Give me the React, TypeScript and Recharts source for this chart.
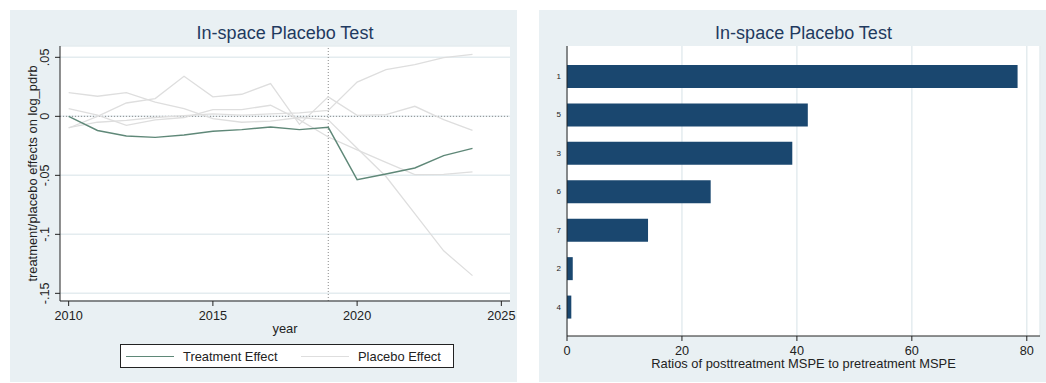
import {
  LineChart,
  Line,
  BarChart,
  Bar,
  XAxis,
  YAxis,
  CartesianGrid,
  ReferenceLine,
} from 'recharts'

// ─── Data ─────────────────────────────────────────────────────────────────────

const YEARS = [2010, 2011, 2012, 2013, 2014, 2015, 2016, 2017, 2018, 2019, 2020, 2021, 2022, 2023, 2024]

const TREATED = [0, -0.012, -0.0167, -0.0178, -0.0158, -0.0127, -0.0113, -0.009, -0.0113, -0.0093, -0.0537, -0.0489, -0.0438, -0.0333, -0.0271]

const PLACEBO_A = [-0.0099, 0.0, 0.0113, 0.015, 0.034, 0.0165, 0.0187, 0.0278, -0.0068, 0.0165, 0.0008, 0.0014, 0.0085, -0.0028, -0.0119]
const PLACEBO_B = [0.02, 0.017, 0.02, 0.012, 0.0065, -0.002, -0.005, -0.004, -0.001, -0.003, -0.027, -0.051, -0.0825, -0.114, -0.135]
const PLACEBO_C = [0.0065, 0.001, -0.0077, -0.003, -0.001, 0.0057, 0.0057, 0.0094, -0.003, -0.0175, -0.0285, -0.039, -0.0494, -0.0492, -0.047]
const PLACEBO_D = [-0.0095, -0.005, -0.0034, -0.001, 0.0006, 0.002, 0.001, 0.002, 0.003, 0.005, 0.029, 0.0395, 0.0438, 0.0497, 0.0525]

const PLACEBOS = [PLACEBO_A, PLACEBO_B, PLACEBO_C, PLACEBO_D]

const Y_TICKS = [-0.15, -0.1, -0.05, 0, 0.05]
const X_TICKS = [2010, 2015, 2020, 2025]
const TREAT_YEAR = 2019

const UNITS = ['1', '5', '3', '6', '7', '2', '4']
const RATIOS = [78.4, 41.9, 39.2, 25.0, 14.1, 1.0, 0.75]
const RATIO_TICKS = [0, 20, 40, 60, 80]

// ─── Style ────────────────────────────────────────────────────────────────────

const FONT = '"Liberation Sans", Arial, Helvetica, sans-serif'
const PANEL_BG = '#e9f0f3'
const GRID = '#e4ecef'
const AXIS = '#222'
const TITLE = '#1f3a60'
const TREAT_COLOR = '#5f8878'
const PLACEBO_COLOR = '#dedede'
const BAR_COLOR = '#1a476f'
const TICK_FONT = 12.7
const LABEL_FONT = 12.9

const lineData = YEARS.map((year, i) => {
  const row: Record<string, number> = { year, treated: TREATED[i] }
  PLACEBOS.forEach((s, k) => { row[`p${k}`] = s[i] })
  return row
})

const barData = UNITS.map((unit, i) => ({ unit, ratio: RATIOS[i] }))

// ─── Helpers ──────────────────────────────────────────────────────────────────

function stataNum(v: number) {
  if (v === 0) return '0'
  const s = String(Math.abs(v)).replace(/^0/, '')
  return (v < 0 ? '-' : '') + s
}

function RotatedTick({ x, y, payload }: any) {
  const tx = x - 3.5
  return (
    <text
      x={tx}
      y={y}
      transform={`rotate(-90 ${tx} ${y})`}
      textAnchor="middle"
      fontSize={TICK_FONT}
      fontFamily={FONT}
      fill={AXIS}
    >
      {stataNum(payload.value)}
    </text>
  )
}

function YTitle() {
  const cx = 26.5
  const cy = 36 + 255 / 2
  return (
    <text
      x={cx}
      y={cy}
      transform={`rotate(-90 ${cx} ${cy})`}
      textAnchor="middle"
      fontSize={LABEL_FONT}
      fontFamily={FONT}
      fill={AXIS}
    >
      treatment/placebo effects on log_pdrb
    </text>
  )
}

function Title({ left, width }: { left: number; width: number }) {
  return (
    <div
      style={{
        position: 'absolute',
        left,
        top: 13,
        width,
        textAlign: 'center',
        fontSize: 18,
        lineHeight: '20px',
        color: TITLE,
        fontFamily: FONT,
      }}
    >
      In-space Placebo Test
    </div>
  )
}

function LegendSwatch({ color }: { color: string }) {
  return <div style={{ width: 48, height: 0, borderTop: `1.5px solid ${color}`, marginRight: 9 }} />
}

// ─── Panels ───────────────────────────────────────────────────────────────────

function EffectsPanel() {
  return (
    <div style={{ position: 'absolute', left: 10, top: 10, width: 507, height: 372, background: PANEL_BG }}>
      <Title left={50} width={450} />
      <LineChart
        width={507}
        height={372}
        data={lineData}
        margin={{ top: 36, right: 7, bottom: 36, left: 0 }}
        style={{ fontFamily: FONT }}
      >
        <CartesianGrid vertical={false} stroke={GRID} fill="#fff" strokeWidth={1.5} />
        <XAxis
          dataKey="year"
          type="number"
          domain={[2009.7, 2025.3]}
          ticks={X_TICKS}
          height={45}
          tickSize={5}
          tickMargin={5}
          axisLine={{ stroke: AXIS }}
          tickLine={{ stroke: AXIS }}
          tick={{ fontSize: TICK_FONT, fill: AXIS, fontFamily: FONT }}
          label={{ value: 'year', position: 'insideTop', offset: 23, fontSize: LABEL_FONT, fill: AXIS, fontFamily: FONT }}
        />
        <YAxis
          type="number"
          domain={[-0.1565, 0.0596]}
          ticks={Y_TICKS}
          width={50}
          tickSize={5}
          tickMargin={2}
          axisLine={{ stroke: AXIS }}
          tickLine={{ stroke: AXIS }}
          tick={<RotatedTick />}
          label={{ content: () => <YTitle /> }}
        />
        <ReferenceLine y={0} stroke="#8c8c8c" strokeDasharray="1 2" />
        <ReferenceLine x={TREAT_YEAR} stroke="#8c8c8c" strokeDasharray="1 2" />
        {PLACEBOS.map((_, k) => (
          <Line
            key={k}
            dataKey={`p${k}`}
            stroke={PLACEBO_COLOR}
            strokeWidth={1.3}
            dot={false}
            isAnimationActive={false}
          />
        ))}
        <Line dataKey="treated" stroke={TREAT_COLOR} strokeWidth={1.4} dot={false} isAnimationActive={false} />
      </LineChart>
      <div
        style={{
          position: 'absolute',
          left: 110,
          top: 334,
          width: 327,
          height: 22,
          background: '#fff',
          border: `1px solid ${AXIS}`,
          display: 'flex',
          alignItems: 'center',
          fontFamily: FONT,
          fontSize: LABEL_FONT,
          color: AXIS,
          paddingLeft: 5,
          boxSizing: 'content-box',
        }}
      >
        <LegendSwatch color={TREAT_COLOR} />
        <span style={{ width: 118 }}>Treatment Effect</span>
        <LegendSwatch color={PLACEBO_COLOR} />
        <span>Placebo Effect</span>
      </div>
    </div>
  )
}

function RatioPanel() {
  return (
    <div style={{ position: 'absolute', left: 539, top: 10, width: 507, height: 372, background: PANEL_BG }}>
      <Title left={28} width={473} />
      <BarChart
        width={507}
        height={372}
        data={barData}
        layout="vertical"
        margin={{ top: 36, right: 6, bottom: 16, left: 8 }}
        style={{ fontFamily: FONT }}
      >
        <CartesianGrid horizontal={false} stroke={GRID} fill="#fff" strokeWidth={1.5} />
        <XAxis
          type="number"
          domain={[0, 82.3]}
          ticks={RATIO_TICKS}
          height={30}
          tickSize={5}
          tickMargin={5}
          axisLine={{ stroke: AXIS }}
          tickLine={{ stroke: AXIS }}
          tick={{ fontSize: TICK_FONT, fill: AXIS, fontFamily: FONT }}
          label={{
            value: 'Ratios of posttreatment MSPE to pretreatment MSPE',
            position: 'insideTop',
            offset: 23,
            fontSize: LABEL_FONT,
            fill: AXIS,
            fontFamily: FONT,
          }}
        />
        <YAxis
          type="category"
          dataKey="unit"
          width={20}
          padding={{ top: 11, bottom: 10 }}
          tickSize={0}
          tickMargin={6}
          tickLine={false}
          axisLine={{ stroke: AXIS }}
          tick={{ fontSize: 8, fill: AXIS, fontFamily: FONT }}
        />
        <Bar dataKey="ratio" fill={BAR_COLOR} barSize={23} isAnimationActive={false} />
      </BarChart>
    </div>
  )
}

export default function App() {
  return (
    <div
      style={{
        position: 'fixed',
        left: 0,
        top: 0,
        width: 1046,
        height: 383,
        background: '#fff',
        overflow: 'hidden',
        fontFamily: FONT,
      }}
    >
      <EffectsPanel />
      <RatioPanel />
    </div>
  )
}
